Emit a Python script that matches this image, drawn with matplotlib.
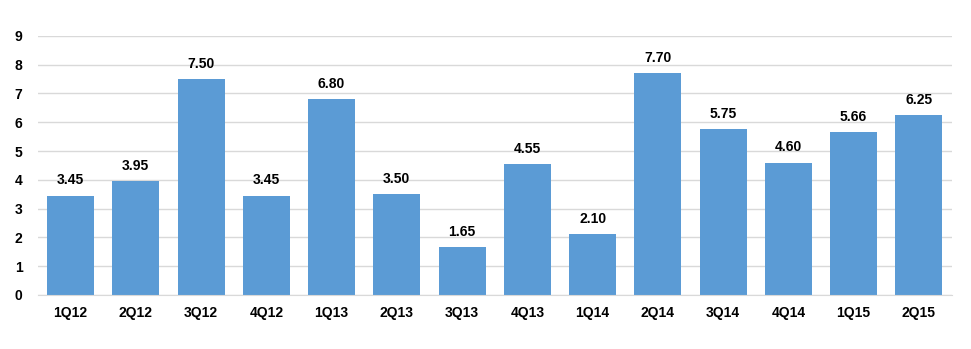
import matplotlib.pyplot as plt

# quarterly values
quarters = ["1Q12", "2Q12", "3Q12", "4Q12", "1Q13", "2Q13", "3Q13",
            "4Q13", "1Q14", "2Q14", "3Q14", "4Q14", "1Q15", "2Q15"]
values = [3.45, 3.95, 7.50, 3.45, 6.80, 3.50, 1.65,
          4.55, 2.10, 7.70, 5.75, 4.60, 5.66, 6.25]

plt.rcParams['font.family'] = ['Liberation Sans', 'DejaVu Sans']

fig = plt.figure(figsize=(9.71, 3.49), dpi=100)
ax = fig.add_axes([0.039, 0.155, 0.941, 0.742])

x = range(len(quarters))
bars = ax.bar(x, values, width=0.72, color="#5b9bd5", zorder=2)

for b, v in zip(bars, values):
    ax.annotate(f"{v:.2f}", (b.get_x() + b.get_width() / 2, v),
                xytext=(0, 6), textcoords="offset points",
                ha="center", va="bottom", fontsize=10, fontweight="bold")

ax.set_xlim(-0.5, len(quarters) - 0.5)
ax.set_ylim(0, 9)
ax.set_yticks(range(10))
ax.set_xticks(list(x))
ax.set_xticklabels(quarters)
ax.yaxis.grid(True, color="#d9d9d9", linewidth=1, zorder=0)
ax.tick_params(length=0, labelsize=10)
for lbl in ax.get_xticklabels() + ax.get_yticklabels():
    lbl.set_fontweight("bold")
ax.tick_params(axis='x', pad=8)
ax.tick_params(axis='y', pad=11)
for s in ["top", "right", "left"]:
    ax.spines[s].set_visible(False)
ax.spines["bottom"].set_color("#d9d9d9")

fig.savefig("out.png", dpi=100)
